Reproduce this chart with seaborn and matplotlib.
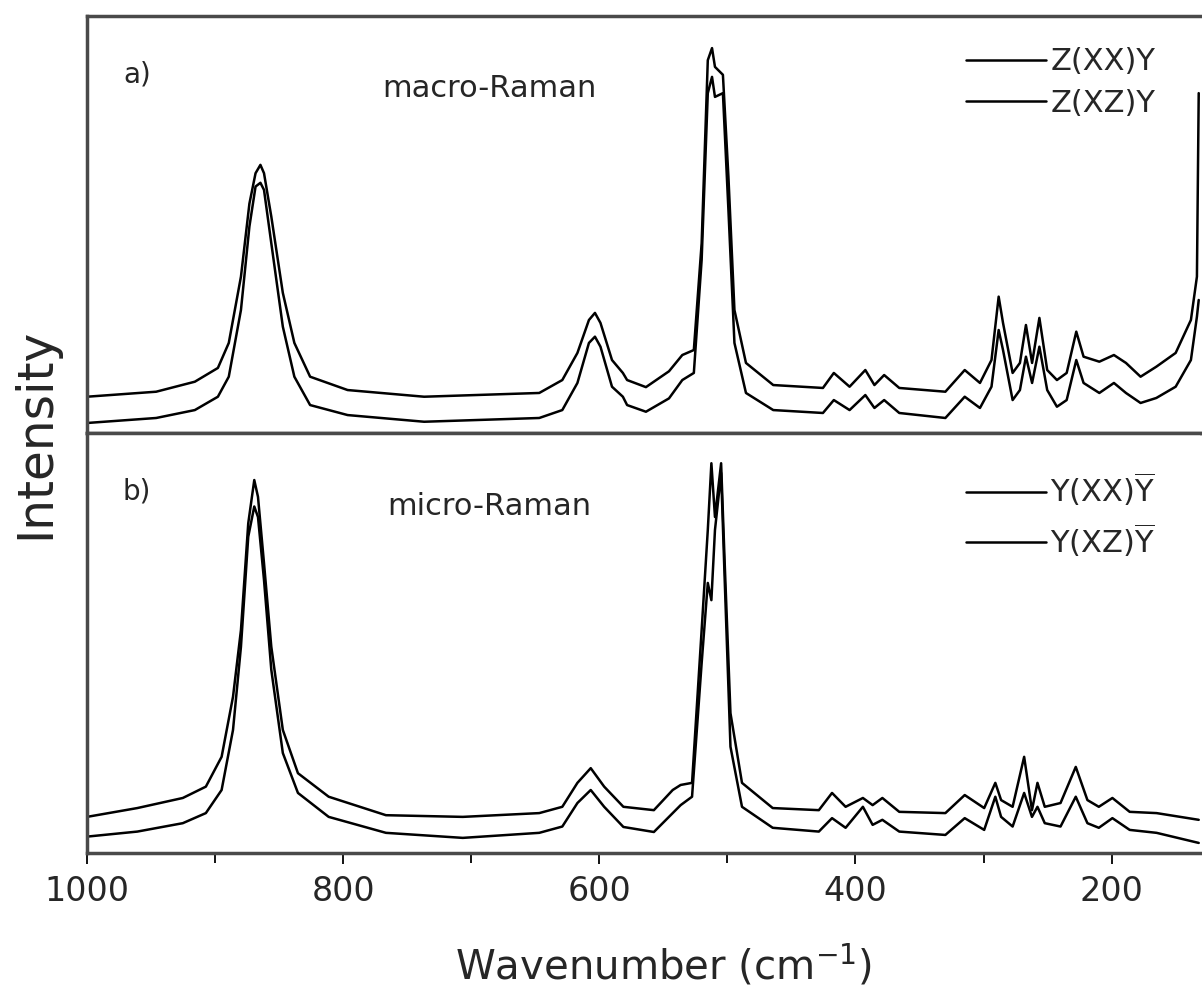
import numpy as np
import pandas as pd
import matplotlib
matplotlib.use("Agg")
import matplotlib.pyplot as plt
from matplotlib.ticker import MultipleLocator
import seaborn as sns

# panel a) macro-Raman, wavenumber grid (cm-1) and the two spectra (a.u.)
wn_a = [1000, 946.0, 915.8, 897.8, 889.3, 879.8, 873.2, 868.4, 864.6, 861.8, 856.1,
        847.1, 838.1, 825.8, 796.5, 736.8, 646.9, 628.9, 617.1, 608.1, 603.4, 599.1,
        590.1, 581.6, 578.3, 563.6, 545.6, 535.2, 526.2, 520.1, 515.3, 512.0, 509.7,
        503.5, 499.2, 494.5, 485.5, 464.2, 425.4, 416.9, 404.6, 392.3, 385.2, 377.6,
        365.8, 329.8, 314.7, 302.8, 293.8, 288.2, 284.8, 277.3, 271.6, 266.9, 262.1,
        256.4, 250.3, 242.7, 235.1, 227.6, 221.9, 209.6, 198.2, 188.8, 177.4, 165.1,
        150.0, 138.1, 133.4, 132.0]
zxx = [8.7, 9.9, 12.3, 15.6, 21.6, 37.5, 55, 62.3, 64.3, 62.3, 51.9,
       33.6, 21.6, 13.5, 10.3, 8.7, 9.6, 12.7, 19.2, 27.1, 28.8, 26.4,
       17.5, 14.4, 12.7, 11, 14.8, 18.7, 19.9, 45.5, 89.4, 92.3, 87.8,
       85.9, 61.5, 29.5, 16.8, 11.5, 10.8, 14.4, 11.1, 15.1, 11.5, 13.9,
       10.8, 9.9, 15.1, 12, 17.5, 32.7, 26.4, 14.4, 16.8, 25.9, 16.8,
       27.6, 15.1, 12.7, 14.4, 24.3, 18.3, 17.1, 18.7, 16.8, 13.5, 15.9,
       19.2, 27.1, 37.5, 81.5]
zxz = [2.4, 3.6, 5.5, 8.7, 13.5, 29.5, 49.5, 59.1, 60, 58.3, 45.5,
       25.5, 13.5, 6.7, 4.3, 2.7, 3.6, 5.5, 12, 21.6, 23.1, 20.7,
       11.1, 8.7, 6.7, 5.1, 8.3, 12.7, 14.4, 41.5, 81.5, 85.4, 80.6,
       81.5, 53.5, 21.6, 9.6, 5.5, 4.8, 7.9, 5.5, 9.1, 6, 7.9,
       4.8, 3.6, 8.7, 6, 11.1, 24.7, 19.9, 7.9, 10.3, 18.3, 12,
       20.7, 10.3, 6.3, 7.9, 17.5, 12, 9.6, 12, 9.6, 7.2, 8.4,
       11.1, 17.5, 27.9, 31.9]

# panel b) micro-Raman
wn_b = [1000, 960.7, 925.2, 907.2, 894.9, 886.0, 879.8, 874.1, 869.4, 866.5, 861.8,
        856.1, 847.1, 835.3, 811.3, 766.6, 706.6, 646.9, 628.9, 617.1, 606.7, 596.2,
        581.2, 557.4, 542.7, 536.5, 527.6, 520.1, 515.3, 512.5, 509.7, 504.9, 502.1,
        497.6, 488.6, 464.6, 428.6, 418.3, 407.7, 394.2, 386.6, 379.0, 365.8, 329.8,
        314.7, 299.5, 290.8, 286.3, 277.3, 268.3, 262.2, 257.9, 252.2, 239.9, 228.0,
        218.9, 210.0, 199.4, 185.9, 164.9, 132.0]
yxx = [8.6, 10.7, 13.1, 15.8, 22.9, 37.2, 53.1, 78.5, 88.8, 84.8, 69,
       49.1, 29.3, 19, 13.4, 9, 8.6, 9.5, 11, 16.7, 20.2, 15.8,
       11, 10.2, 15, 16.2, 16.7, 53.1, 76.9, 92.8, 80, 92.8, 69,
       33.3, 16.7, 10.7, 10.2, 14.3, 11, 13.1, 11.4, 13.1, 9.8, 9.5,
       13.8, 10.7, 16.7, 12.6, 11, 22.9, 10.2, 16.7, 11, 11.9, 20.5,
       12.6, 11, 13.1, 9.8, 9.5, 7.9]
yxz = [3.9, 5.1, 7.1, 9.5, 15, 29.3, 49.1, 75.3, 82.5, 80, 65,
       43.6, 23.8, 14.3, 8.6, 4.8, 3.6, 4.8, 6.3, 11.9, 15, 11,
       6.2, 5, 9.5, 11.4, 13.4, 45.2, 64.3, 60.2, 76.9, 90.5, 65,
       25.3, 11, 6, 5.1, 8.3, 6, 11, 6.7, 7.9, 5.1, 4.3,
       8.3, 5.5, 13.4, 8.6, 6.3, 14.3, 8.6, 11, 7.1, 6.3, 13.4,
       7.1, 6, 8.3, 5.5, 4.8, 2.4]

labels_a = ["Z(XX)Y", "Z(XZ)Y"]
labels_b = [r"Y(XX)$\overline{\mathrm{Y}}$", r"Y(XZ)$\overline{\mathrm{Y}}$"]

sns.set_theme(style="white")
plt.rcParams["font.family"] = ["DejaVu Sans"]

W, H = 1202, 1001
fig = plt.figure(figsize=(W / 100, H / 100), dpi=100)
left = 87 / W
width = 1113 / W
ax_a = fig.add_axes([left, 1 - 433 / H, width, 417 / H])
ax_b = fig.add_axes([left, 1 - 853 / H, width, 420 / H])

spine_col = "#4a4a4a"

panels = [
    (ax_a, wn_a, [zxx, zxz], labels_a, "a)", "macro-Raman", 0.925),
    (ax_b, wn_b, [yxx, yxz], labels_b, "b)", "micro-Raman", 0.91),
]

for ax, wn, series, labels, tag, title, leg_y in panels:
    for ys, lab in zip(series, labels):
        sns.lineplot(x=wn, y=ys, ax=ax, color="black", linewidth=1.8, label=lab)
    ax.set_xlim(1000, 131)
    ax.set_ylim(0, 100)
    ax.set_yticks([])
    ax.set_ylabel("")
    for s in ["top", "bottom", "left"]:
        ax.spines[s].set_color(spine_col)
        ax.spines[s].set_linewidth(2.5)
    ax.spines["right"].set_visible(False)
    ax.text(0.045, 0.86, tag, transform=ax.transAxes, fontsize=20,
            ha="center", va="center")
    ax.text(0.3615, 0.826, title, transform=ax.transAxes, fontsize=22,
            ha="center", va="center")
    ax.legend(loc="upper left", bbox_to_anchor=(0.79, leg_y), frameon=False,
              fontsize=22, handlelength=2.6, handletextpad=0.15,
              labelspacing=0.42, borderpad=0, borderaxespad=0)

ax_a.set_xticks([])
ax_a.set_xlabel("")

ax_b.xaxis.set_major_locator(MultipleLocator(200))
ax_b.xaxis.set_minor_locator(MultipleLocator(100))
ax_b.tick_params(axis="x", which="major", direction="out", length=8, width=1.3,
                 color="black", labelsize=24, pad=8, bottom=True)
ax_b.tick_params(axis="x", which="minor", direction="out", length=7, width=1.3,
                 color="black", bottom=True)
ax_b.set_xlabel(r"Wavenumber (cm$^{-1}$)", fontsize=29)
ax_b.xaxis.set_label_coords(0.518, -0.215)

fig.text(35 / W, 1 - 433 / H, "Intensity", rotation=90, fontsize=35,
         ha="center", va="center")

fig.savefig("out.png", dpi=100)
